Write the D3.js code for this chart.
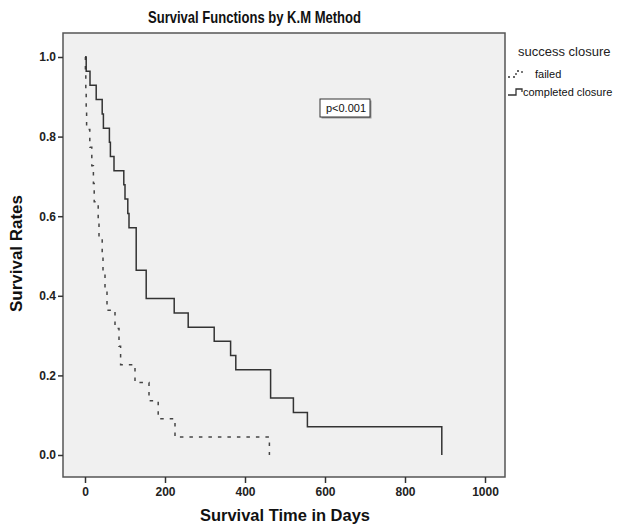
<!DOCTYPE html>
<html>
<head>
<meta charset="utf-8">
<script src="https://cdn.jsdelivr.net/npm/d3@7"></script>
<style>
  body { margin: 0; background: #fff; }
  svg { display: block; font-family: "Liberation Sans", Arial, sans-serif; }
</style>
</head>
<body>
<svg id="chart"></svg>
<script>
// survival curves

var seriesNames = ["failed", "completed closure"];

// completed closure: time (days), survival after that time
var completedTimes = [0, 3, 12.5, 28, 43, 46, 61, 63.5, 72.5, 97, 100, 107, 110, 128, 153, 223, 258, 323, 364, 377, 464, 521, 556, 892];
var completedRates = [1.0, 0.964, 0.929, 0.893, 0.857, 0.821, 0.786, 0.75, 0.714, 0.679, 0.643, 0.607, 0.571, 0.464, 0.393, 0.357, 0.321, 0.286, 0.25, 0.214, 0.143, 0.107, 0.071, 0.0];

// failed
var failedTimes = [0, 1, 2, 3, 4, 12, 17, 21, 23, 33, 35, 43, 45, 50, 55, 75, 85, 89, 125, 160, 183, 225, 461];
var failedRates = [1.0, 0.955, 0.909, 0.864, 0.818, 0.773, 0.727, 0.682, 0.636, 0.591, 0.545, 0.5, 0.455, 0.409, 0.364, 0.318, 0.273, 0.227, 0.182, 0.136, 0.091, 0.045, 0.0];

var xTicks = [0, 200, 400, 600, 800, 1000];
var yTicks = [0.0, 0.2, 0.4, 0.6, 0.8, 1.0];

var width = 630, height = 528;
var box = { left: 63, right: 505, top: 33, bottom: 477 };

var chart = d3.select("#chart").attr("width", width).attr("height", height);

var xscale = d3.scaleLinear().domain([0, 1000]).range([85, 485]);
var yscale = d3.scaleLinear().domain([0, 1]).range([455, 57]);

chart.append("rect")
    .attr("x", box.left).attr("y", box.top)
    .attr("width", box.right - box.left).attr("height", box.bottom - box.top)
    .style("fill", "#f0f0f0")
    .style("stroke", "#555")
    .style("stroke-width", 1.5);

// axes
var xAxis = chart.append("g")
    .attr("transform", "translate(0," + box.bottom + ")")
    .call(d3.axisBottom(xscale).tickValues(xTicks).tickSize(6).tickPadding(4).tickFormat(d3.format("d")));
var yAxis = chart.append("g")
    .attr("transform", "translate(" + box.left + ",0)")
    .call(d3.axisLeft(yscale).tickValues(yTicks).tickSize(5).tickPadding(2).tickFormat(d3.format(".1f")));

[xAxis, yAxis].forEach(function(ax) {
  ax.select(".domain").remove();
  ax.selectAll(".tick line").style("stroke", "#333").style("stroke-width", 1.5);
  ax.selectAll(".tick text")
    .style("font-size", "12px").style("font-weight", "bold").style("fill", "#222");
});

var line = d3.line()
    .curve(d3.curveStepAfter)
    .x(function(d) { return xscale(d[0]); })
    .y(function(d) { return yscale(d[1]); });

var failedData = d3.zip(failedTimes, failedRates);
var completedData = d3.zip(completedTimes, completedRates);

chart.append("path")
    .datum(failedData)
    .attr("d", line)
    .style("fill", "none")
    .style("stroke", "#444")
    .style("stroke-width", 1.5)
    .style("stroke-dasharray", "3.5,6");

chart.append("path")
    .datum(completedData)
    .attr("d", line)
    .style("fill", "none")
    .style("stroke", "#333")
    .style("stroke-width", 1.5);

// p-value box
var pbox = chart.append("g").attr("transform", "translate(320,99)");
pbox.append("rect").attr("x", 1.5).attr("y", 1.5).attr("width", 50).attr("height", 18).style("fill", "#999");
pbox.append("rect").attr("width", 50).attr("height", 18)
    .style("fill", "#fff").style("stroke", "#333").style("stroke-width", 1);
pbox.append("text").attr("x", 26).attr("y", 13).attr("text-anchor", "middle")
    .style("font-size", "11px").style("fill", "#111").text("p<0.001");

// titles (narrow bold look)
chart.append("text")
    .attr("x", 148).attr("y", 23)
    .attr("textLength", 213).attr("lengthAdjust", "spacingAndGlyphs")
    .style("font-size", "17px").style("font-weight", "bold").style("fill", "#111")
    .text("Survival Functions by K.M Method");

chart.append("text")
    .attr("x", 200).attr("y", 521)
    .attr("textLength", 170).attr("lengthAdjust", "spacingAndGlyphs")
    .style("font-size", "16px").style("font-weight", "bold").style("fill", "#111")
    .text("Survival Time in Days");

chart.append("text")
    .attr("transform", "translate(22,312) rotate(-90)")
    .attr("textLength", 117).attr("lengthAdjust", "spacingAndGlyphs")
    .style("font-size", "16px").style("font-weight", "bold").style("fill", "#111")
    .text("Survival Rates");

// legend
var legend = chart.append("g");
legend.append("text").attr("x", 518).attr("y", 56)
    .style("font-size", "13px").style("fill", "#222").text("success closure");

var symbol = "M0,6 H8 V0 H14 V3";
var legendRows = legend.selectAll("g.row").data(seriesNames).enter()
    .append("g").attr("class", "row")
    .attr("transform", function(d, i) { return "translate(508," + (71 + i * 18) + ")"; });
legendRows.append("path").attr("d", symbol)
    .style("fill", "none").style("stroke", "#333").style("stroke-width", 1.3)
    .style("stroke-dasharray", function(d, i) { return i === 0 ? "2,3" : null; });
legendRows.append("text").attr("x", function(d, i) { return i === 0 ? 27 : 15; }).attr("y", 7)
    .style("font-size", "11px").style("fill", "#111").text(function(d) { return d; });
</script>
</body>
</html>
